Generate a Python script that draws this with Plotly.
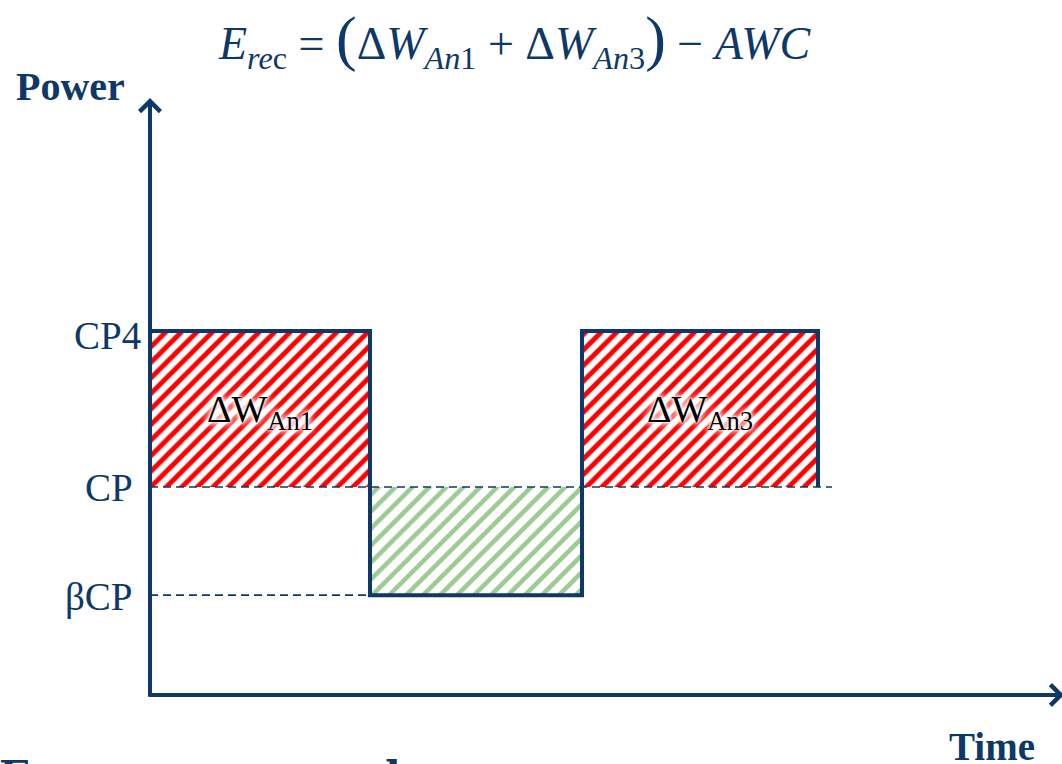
import plotly.graph_objects as go

# Power levels (relative units, CP = 100)
levels = {"CP4": 175, "CP": 100, "βCP": 48}
# Time breakpoints of the interval protocol: work / recovery / work
t_edges = [0, 22, 43.2, 66.8]
cp_line_end = 68.2
seg_names = ["ΔW_An1", "recovery", "ΔW_An3"]
seg_power = [levels["CP4"], levels["βCP"], levels["CP4"]]

NAVY = "#0e3868"
FONT = "Liberation Serif"
W, H = 1062, 764

fig = go.Figure()

# hatched areas between each segment's power and CP
fills = [
    dict(fg="#ff0000", size=11, solidity=0.45),
    dict(fg="#9ccc94", size=12, solidity=0.38),
    dict(fg="#ff0000", size=11, solidity=0.45),
]
for i, name in enumerate(seg_names):
    lo, hi = sorted([levels["CP"], seg_power[i]])
    fig.add_trace(go.Bar(
        x=[(t_edges[i] + t_edges[i + 1]) / 2],
        width=[t_edges[i + 1] - t_edges[i]],
        base=[lo], y=[hi - lo],
        marker=dict(color="white", line_width=0,
                    pattern=dict(shape="/", fgcolor=fills[i]["fg"], bgcolor="white",
                                 size=fills[i]["size"], solidity=fills[i]["solidity"],
                                 fillmode="replace")),
        showlegend=False, hoverinfo="skip", name=name,
    ))

# reference dashed lines at CP and βCP
fig.add_trace(go.Scatter(x=[t_edges[0], cp_line_end], y=[levels["CP"]] * 2, mode="lines",
                         line=dict(color=NAVY, width=1.6, dash="8px,5px"),
                         showlegend=False, hoverinfo="skip"))
fig.add_trace(go.Scatter(x=[t_edges[0], t_edges[1]], y=[levels["βCP"]] * 2, mode="lines",
                         line=dict(color=NAVY, width=1.6, dash="8px,5px"),
                         showlegend=False, hoverinfo="skip"))

# power profile (step line)
px, py = [], []
for i in range(len(seg_power)):
    px += [t_edges[i], t_edges[i + 1]]
    py += [seg_power[i], seg_power[i]]
px.append(t_edges[-1])
py.append(levels["CP"])
fig.add_trace(go.Scatter(x=px, y=py, mode="lines", line=dict(color=NAVY, width=4),
                         showlegend=False, hoverinfo="skip"))

# axes with arrow heads
fig.add_annotation(x=0, y=287, ax=0, ay=-1.5, xref="x", yref="y", axref="x", ayref="y",
                   showarrow=True, arrowhead=4, arrowsize=1, arrowwidth=4,
                   arrowcolor=NAVY, text="")
fig.add_annotation(x=91.4, y=0, ax=-0.2, ay=0, xref="x", yref="y", axref="x", ayref="y",
                   showarrow=True, arrowhead=4, arrowsize=1, arrowwidth=4,
                   arrowcolor=NAVY, text="")

# tick labels for power levels
for lab, val, dx, dy in [("CP4", levels["CP4"], 3, -4), ("CP", levels["CP"], -5, 0),
                         ("βCP", levels["βCP"], -5, -2)]:
    fig.add_annotation(x=-1.0, y=val, xref="x", yref="y", text=lab, showarrow=False,
                       xanchor="right", yanchor="middle", xshift=dx, yshift=dy,
                       font=dict(family=FONT, size=39, color=NAVY))

# area labels with a white halo
shadow = ("0px 0px 2px white, 0px 0px 3px white, 0px 0px 5px white, "
          "0px 0px 7px white, 0px 0px 9px white, 0px 0px 11px white")
for i, sub in [(0, "An1"), (2, "An3")]:
    fig.add_annotation(x=(t_edges[i] + t_edges[i + 1]) / 2, y=(levels["CP4"] + levels["CP"]) / 2 - 1.5,
                       xref="x", yref="y", text=f"ΔW<sub>{sub}</sub>", showarrow=False,
                       font=dict(family=FONT, size=38, color="black", shadow=shadow))


def pxx(x):
    return x / W


def pxy(y):
    return 1 - y / H


# axis titles
fig.add_annotation(x=pxx(70), y=pxy(86), xref="paper", yref="paper", text="<b>Power</b>",
                   showarrow=False, xanchor="center", yanchor="middle",
                   font=dict(family=FONT, size=40, color=NAVY))
fig.add_annotation(x=pxx(992), y=pxy(746), xref="paper", yref="paper", text="<b>Time</b>",
                   showarrow=False, xanchor="center", yanchor="middle",
                   font=dict(family=FONT, size=39, color=NAVY))

# equation
eq = ('<i>E</i><sub><i>re</i>c</sub> = <span style="font-size:62px">(</span>Δ<i>W</i><sub><i>An</i>1</sub>'
      ' + Δ<i>W</i><sub><i>An</i>3</sub><span style="font-size:62px">)</span> − <i>AWC</i>')
fig.add_annotation(x=pxx(514), y=pxy(40), xref="paper", yref="paper", text=eq, showarrow=False,
                   xanchor="center", yanchor="middle",
                   font=dict(family=FONT, size=46, color=NAVY))

# caption running off the bottom edge
fig.add_annotation(x=pxx(-2), y=pxy(751), xref="paper", yref="paper", text="<b>Energy recovered</b>",
                   showarrow=False, xanchor="left", yanchor="top", borderpad=0,
                   font=dict(family="DejaVu Serif", size=41, color=NAVY))

fig.update_layout(
    width=W, height=H, margin=dict(l=0, r=0, t=0, b=0),
    paper_bgcolor="white", plot_bgcolor="white",
    barmode="overlay", bargap=0,
    xaxis=dict(range=[-15, 91.2], visible=False, fixedrange=True),
    yaxis=dict(range=[-33.17, 334.13], visible=False, fixedrange=True),
    showlegend=False,
)

fig.write_html("out.html")
